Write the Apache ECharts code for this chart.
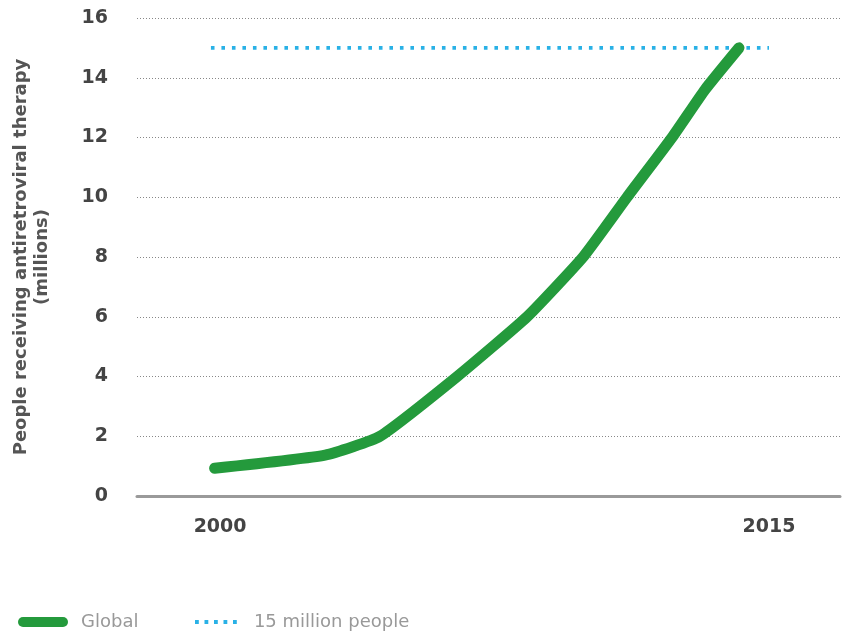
<!DOCTYPE html>
<html>
<head>
<meta charset="utf-8">
<script src="https://cdn.jsdelivr.net/npm/echarts@6/dist/echarts.min.js"></script>
<style>
html,body{margin:0;padding:0;background:#fff;}
#chart{width:847px;height:633px;}
</style>
</head>
<body>
<div id="chart"></div>
<script>
// Data
var globalYears  = [1999.85, 2002.87, 2004.37, 2006.48, 2008.39, 2009.92, 2011.12, 2012.35, 2013.25, 2014.18];
var globalValues = [0.93, 1.37, 2.0, 4.0, 6.0, 8.0, 10.0, 12.0, 13.6, 15.0];
var targetYears  = [1999.75, 2015.0];
var targetValues = [15, 15];
var xTickLabels  = [2000, 2015];
var yTicks       = [0, 2, 4, 6, 8, 10, 12, 14, 16];
var seriesNames  = ['Global', '15 million people'];
var yAxisTitle   = 'People receiving antiretroviral therapy\n(millions)';

function pairs(xs, ys){ return xs.map(function(x,i){ return [x, ys[i]]; }); }

var chart = echarts.init(document.getElementById('chart'), null, {renderer:'canvas'});
var labelFont = 'DejaVu Sans';
chart.setOption({
  animation:false,
  backgroundColor:'#fff',
  grid:{left:137, right:7, top:18, bottom:137, containLabel:false, outerBoundsMode:'none'},
  xAxis:{
    type:'value', min:1997.73, max:2016.94,
    axisLine:{show:true, lineStyle:{color:'#9a9a9a', width:3}},
    axisTick:{show:false},
    splitLine:{show:false},
    axisLabel:{
      customValues: xTickLabels,
      margin:22, color:'#444', fontSize:19, fontWeight:'bold', fontFamily:labelFont,
      formatter:function(v){ return String(v); }
    }
  },
  yAxis:{
    type:'value', min:yTicks[0], max:yTicks[yTicks.length-1], interval:2,
    name:yAxisTitle, nameLocation:'middle', nameGap:84, nameRotate:90,
    nameTextStyle:{color:'#555', fontSize:18, fontWeight:'bold', fontFamily:labelFont, lineHeight:21},
    axisLine:{show:false}, axisTick:{show:false},
    axisLabel:{margin:29, color:'#444', fontSize:19, fontWeight:'bold', fontFamily:labelFont},
    splitLine:{show:true, lineStyle:{color:'#888', width:1, type:[1,2]}}
  },
  legend:[
    {
      data:[{name:seriesNames[0], icon:'path://M5,0 H45 A5,5 0 0 1 45,10 H5 A5,5 0 0 1 5,0 Z'}],
      left:13, top:608, itemWidth:50, itemHeight:10, itemGap:0,
      textStyle:{color:'#999', fontSize:18, fontFamily:'DejaVu Sans', padding:[0,0,0,8]}
    },
    {
      data:[{name:seriesNames[1], icon:'path://M0,0h1v1h-1z M2.5,0h1v1h-1z M5,0h1v1h-1z M7.5,0h1v1h-1z M10,0h1v1h-1z'}],
      left:190, top:608, itemWidth:42, itemHeight:3.8, itemGap:0,
      textStyle:{color:'#999', fontSize:18, fontFamily:'DejaVu Sans', padding:[0,0,0,12]}
    }
  ],
  series:[
    {
      name:seriesNames[1], type:'line', data:pairs(targetYears, targetValues),
      showSymbol:false, symbol:'none', z:2,
      itemStyle:{color:'#29b1e6'},
      lineStyle:{color:'#29b1e6', width:3.6, type:[3.6,6.9], cap:'butt'}
    },
    {
      name:seriesNames[0], type:'line', data:pairs(globalYears, globalValues),
      showSymbol:false, symbol:'none', smooth:0.15, z:3,
      itemStyle:{color:'#249a3c'},
      lineStyle:{color:'#249a3c', width:11, cap:'round', join:'round'}
    }
  ]
});
</script>
</body>
</html>
